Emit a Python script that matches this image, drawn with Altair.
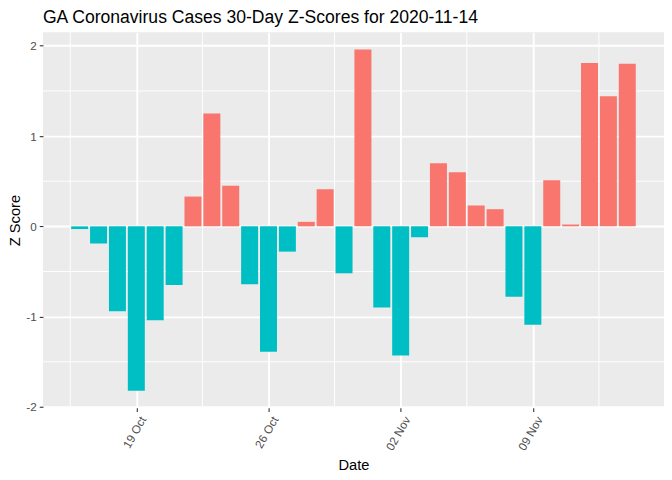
import altair as alt
import pandas as pd

dates = pd.date_range("2020-10-16", "2020-11-14", freq="D")
zscores = [-0.03, -0.19, -0.94, -1.82, -1.04, -0.65, 0.33, 1.25, 0.45, -0.64,
           -1.39, -0.28, 0.05, 0.41, -0.52, 1.96, -0.90, -1.43, -0.12, 0.70,
           0.60, 0.23, 0.19, -0.78, -1.09, 0.51, 0.02, 1.81, 1.44, 1.80]
x_ticks = ["2020-10-19", "2020-10-26", "2020-11-02", "2020-11-09"]
y_ticks = [-2, -1, 0, 1, 2]
y_minor = [-1.5, -0.5, 0.5, 1.5]

day = pd.Timedelta(days=1)
df = pd.DataFrame({"date": dates, "z": zscores})
df["x0"] = df["date"] - 0.45 * day
df["x1"] = df["date"] + 0.45 * day
df["pos"] = df["z"] > 0

# ggplot-style 5% expansion of the continuous range
lo = df["x0"].min()
hi = df["x1"].max()
pad = (hi - lo) * 0.05
x_dom = [(lo - pad).isoformat(), (hi + pad).isoformat()]
zlo, zhi = min(zscores), max(zscores)
zpad = (zhi - zlo) * 0.05
y_dom = [zlo - zpad, zhi + zpad]

tick_dt = [pd.Timestamp(t) for t in x_ticks]
minor_x = [(t - 3.5 * day) for t in tick_dt] + [tick_dt[-1] + 3.5 * day]
minor_x_df = pd.DataFrame({"m": minor_x})
minor_y_df = pd.DataFrame({"m": y_minor})

xscale = alt.Scale(domain=x_dom)
yscale = alt.Scale(domain=y_dom, nice=False, zero=False)

xaxis = alt.Axis(
    title="Date", values=[alt.DateTime(year=t.year, month=t.month, date=t.day) for t in tick_dt],
    format="%d %b", labelAngle=300, labelAlign="right", labelBaseline="top",
    labelColor="#4D4D4D", labelFontSize=11.7, labelPadding=3, labelOffset=2,
    tickColor="#333333", tickSize=3.7, tickWidth=1.1, domain=False,
    grid=True, gridColor="white", gridWidth=1.9,
    titleFontSize=14.7, titleColor="black", titleFontWeight="normal", titlePadding=5,
)
yaxis = alt.Axis(
    title="Z Score", values=y_ticks, labelExpr="'' + datum.value",
    labelColor="#4D4D4D", labelFontSize=11.7, labelPadding=3,
    tickColor="#333333", tickSize=3.7, tickWidth=1.1, domain=False,
    grid=True, gridColor="white", gridWidth=1.9,
    titleFontSize=14.7, titleColor="black", titleFontWeight="normal", titlePadding=3,
)

vminor = alt.Chart(minor_x_df).mark_rule(color="white", strokeWidth=0.95).encode(
    x=alt.X("m:T", scale=xscale, axis=xaxis)
)
hminor = alt.Chart(minor_y_df).mark_rule(color="white", strokeWidth=0.95).encode(
    y=alt.Y("m:Q", scale=yscale, axis=yaxis)
)
bars = alt.Chart(df).mark_bar().encode(
    x=alt.X("x0:T", scale=xscale, axis=xaxis),
    x2="x1:T",
    y=alt.Y("z:Q", scale=yscale, axis=yaxis),
    y2=alt.datum(0),
    color=alt.Color("pos:N", scale=alt.Scale(domain=[True, False], range=["#F8766D", "#00BFC4"]), legend=None),
)

chart = alt.layer(vminor, hminor, bars).properties(
    width=622, height=376,
    title=alt.TitleParams("GA Coronavirus Cases 30-Day Z-Scores for 2020-11-14", anchor="start",
                          frame="group", fontSize=17.6, fontWeight="normal", color="black",
                          baseline="top", offset=5),
    autosize=alt.AutoSizeParams(type="none"),
    padding={"left": 35, "top": 24, "right": 0, "bottom": 64},
).configure(font="Liberation Sans").configure_view(fill="#EBEBEB", stroke=None)

chart.save("out.html", embed_options={"renderer": "svg", "actions": False})
